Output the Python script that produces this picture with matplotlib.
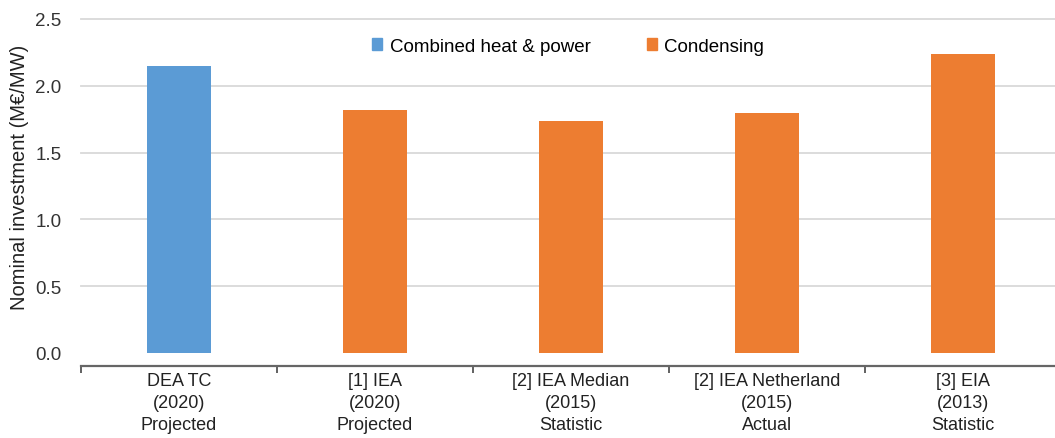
import numpy as np
import matplotlib
matplotlib.use('Agg')
import matplotlib.pyplot as plt
from matplotlib.patches import Patch

# data
categories = ['DEA TC\n(2020)\nProjected', '[1] IEA\n(2020)\nProjected',
              '[2] IEA Median\n(2015)\nStatistic', '[2] IEA Netherland\n(2015)\nActual',
              '[3] EIA\n(2013)\nStatistic']
values = [2.15, 1.82, 1.74, 1.80, 2.24]
kinds = ['Combined heat & power', 'Condensing', 'Condensing', 'Condensing', 'Condensing']
yticks = [0.0, 0.5, 1.0, 1.5, 2.0, 2.5]

colors = {'Combined heat & power': '#5B9BD5', 'Condensing': '#ED7D31'}

plt.rcParams['font.family'] = ['Liberation Sans', 'DejaVu Sans']

W, H = 1055, 439
fig = plt.figure(figsize=(W / 100, H / 100), dpi=100)
ax = fig.add_axes([81 / W, (H - 354) / H, 980 / W, 334 / H])

x = np.arange(len(categories))
ax.bar(x, values, width=0.33, color=[colors[k] for k in kinds], zorder=3)

# grid (no line at zero, the category axis sits below)
for t in yticks[1:]:
    ax.axhline(t, color='#D9D9D9', lw=1.3, zorder=1, clip_on=False)

ax.set_xlim(-0.5, len(categories) - 0.5)
ax.set_ylim(0, 2.5)
ax.set_yticks(yticks)
ax.set_yticklabels([f'{t:.1f}' for t in yticks])
ax.tick_params(axis='y', length=0, pad=14, labelsize=13.5, labelcolor='#333333')

# category boundaries as ticks, names drawn as text below the axis
ax.set_xticks(np.arange(len(categories) + 1) - 0.5)
ax.set_xticklabels([])
ax.tick_params(axis='x', length=5, width=1.3, color='#555555', direction='out')
for xi, lab in zip(x, categories):
    ax.text(xi, -19 / 334, lab, transform=ax.get_xaxis_transform(), ha='center', va='top',
            fontsize=13, color='#222222', linespacing=1.38)

for s in ['top', 'right', 'left']:
    ax.spines[s].set_visible(False)
ax.spines['bottom'].set_position(('outward', 9))
ax.spines['bottom'].set_color('#666666')
ax.spines['bottom'].set_linewidth(1.6)

fig.text(20 / W, (H - 310) / H, 'Nominal investment (M€/MW)', rotation=90,
         fontsize=14.5, ha='center', va='bottom', color='#222222')

handles = [Patch(color=colors['Combined heat & power'], label='Combined heat & power'),
           Patch(color=colors['Condensing'], label='Condensing')]
fig.legend(handles=handles, loc='center', bbox_to_anchor=(568 / W, (H - 47) / H),
           ncol=2, frameon=False, fontsize=13.5, handlelength=0.55, handleheight=0.55,
           handletextpad=0.4, columnspacing=3.0)

fig.savefig('out.png', dpi=100)
